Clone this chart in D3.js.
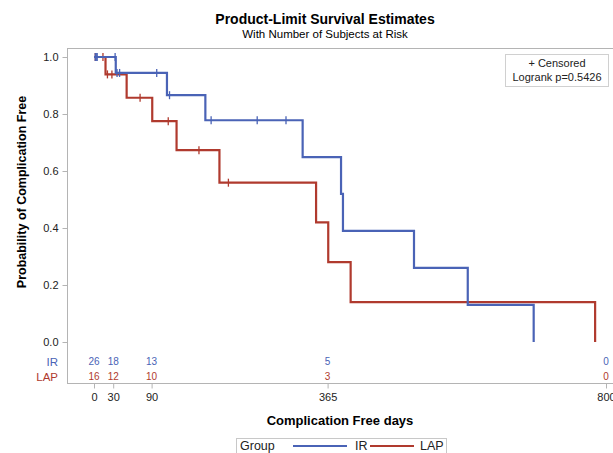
<!DOCTYPE html>
<html>
<head>
<meta charset="utf-8">
<script src="https://cdn.jsdelivr.net/npm/d3@7"></script>
<style>
  body { margin: 0; background: #fff; }
  text { font-family: Arial, "Liberation Sans", sans-serif; }
</style>
</head>
<body>
<div id="chart"></div>
<script>
// event times (days) and survival after each drop
var irTimes = [34, 114, 174, 326, 386, 389, 500, 584, 687];
var irSurv = [0.944, 0.866, 0.778, 0.649, 0.52, 0.39, 0.26, 0.13, 0];
var irCensor = [2, 3.5, 5, 33, 36, 40, 98, 118, 183, 255, 300];

var lapTimes = [18, 51, 91, 129, 196, 347, 366, 401, 783];
var lapSurv = [0.939, 0.857, 0.775, 0.673, 0.559, 0.42, 0.28, 0.14, 0];
var lapCensor = [2, 14, 21, 28, 72, 116, 164, 210];

// numbers at risk
var riskTicks = [0, 30, 90, 365, 800];
var irRisk = [26, 18, 13, 5, 0];
var lapRisk = [16, 12, 10, 3, 0];

var yTicks = [0, 0.2, 0.4, 0.6, 0.8, 1.0];

(function () {
    var width = 613, height = 453;
    var blue = "#4a63b6", red = "#b03a2e", grey = "#b4b4b4";

    var svg = d3.select("#chart").append("svg")
        .attr("width", width).attr("height", height);

    var x = d3.scaleLinear().domain([0, 800]).range([94, 606]);
    var y = d3.scaleLinear().domain([0, 1]).range([342, 57]);

    // titles
    svg.append("text").attr("x", 325).attr("y", 24).attr("text-anchor", "middle")
        .attr("font-size", 14).attr("font-weight", "bold").text("Product-Limit Survival Estimates");
    svg.append("text").attr("x", 325).attr("y", 38).attr("text-anchor", "middle")
        .attr("font-size", 11.5).text("With Number of Subjects at Risk");

    // frame
    svg.append("rect").attr("x", 67.5).attr("y", 48.5).attr("width", 600).attr("height", 335)
        .attr("fill", "none").attr("stroke", grey);

    // y axis
    var yAxis = svg.append("g").attr("transform", "translate(67.5,0)")
        .call(d3.axisLeft(y).tickValues(yTicks).tickFormat(d3.format(".1f")).tickSize(5).tickPadding(4));
    yAxis.select(".domain").remove();
    yAxis.selectAll("line").attr("stroke", grey);
    yAxis.selectAll("text").attr("font-size", 11).attr("fill", "#222")
        .style("font-family", "Arial, 'Liberation Sans', sans-serif");

    // x axis
    var xAxis = svg.append("g").attr("transform", "translate(0,383.5)")
        .call(d3.axisBottom(x).tickValues(riskTicks).tickSize(5).tickPadding(5));
    xAxis.select(".domain").remove();
    xAxis.selectAll("line").attr("stroke", grey);
    xAxis.selectAll("text").attr("font-size", 11).attr("fill", "#222")
        .style("font-family", "Arial, 'Liberation Sans', sans-serif");

    // axis labels
    svg.append("text").attr("transform", "translate(26,192) rotate(-90)")
        .attr("text-anchor", "middle").attr("font-size", 12.5).attr("font-weight", "bold")
        .text("Probability of Complication Free");
    svg.append("text").attr("x", 340).attr("y", 425).attr("text-anchor", "middle")
        .attr("font-size", 13).attr("font-weight", "bold").text("Complication Free days");

    // curves
    var line = d3.line().x(d => x(d[0])).y(d => y(d[1])).curve(d3.curveStepAfter);

    function stepAt(times, surv, t) {
        var s = 1;
        for (var i = 0; i < times.length; i++) if (times[i] <= t) s = surv[i];
        return s;
    }

    var groups = [
        { times: irTimes, surv: irSurv, cens: irCensor, color: blue },
        { times: lapTimes, surv: lapSurv, cens: lapCensor, color: red }
    ];

    groups.slice().reverse().forEach(function (g) {
        var pts = [[0, 1]].concat(g.times.map((t, i) => [t, g.surv[i]]));
        svg.append("path").datum(pts).attr("d", line)
            .attr("fill", "none").attr("stroke", g.color).attr("stroke-width", 2.2);
        svg.append("g").selectAll("line").data(g.cens).join("line")
            .attr("x1", d => x(d)).attr("x2", d => x(d))
            .attr("y1", d => y(stepAt(g.times, g.surv, d)) - 4)
            .attr("y2", d => y(stepAt(g.times, g.surv, d)) + 4)
            .attr("stroke", g.color).attr("stroke-width", 1.3);
    });

    // at-risk rows
    var rows = [
        { name: "IR", vals: irRisk, color: blue, yy: 366 },
        { name: "LAP", vals: lapRisk, color: red, yy: 381 }
    ];
    rows.forEach(function (r) {
        svg.append("text").attr("x", 58).attr("y", r.yy).attr("text-anchor", "end")
            .attr("font-size", 11.5).attr("fill", r.color).text(r.name);
        svg.append("g").selectAll("text").data(r.vals).join("text")
            .attr("x", (d, i) => x(riskTicks[i])).attr("y", r.yy - 1)
            .attr("text-anchor", "middle").attr("font-size", 10).attr("fill", r.color)
            .text(d => d);
    });

    // inset legend
    svg.append("rect").attr("x", 505.5).attr("y", 54.5).attr("width", 103).attr("height", 32)
        .attr("fill", "#fff").attr("stroke", "#d0d0d0");
    svg.append("text").attr("x", 557).attr("y", 67).attr("text-anchor", "middle")
        .attr("font-size", 11).attr("fill", "#222").text("+ Censored");
    svg.append("text").attr("x", 557).attr("y", 81).attr("text-anchor", "middle")
        .attr("font-size", 11).attr("fill", "#222").text("Logrank p=0.5426");

    // group legend
    svg.append("rect").attr("x", 236.5).attr("y", 438.5).attr("width", 210).attr("height", 30)
        .attr("fill", "none").attr("stroke", "#c8c8c8");
    svg.append("text").attr("x", 240).attr("y", 450).attr("font-size", 12.5).attr("fill", "#222").text("Group");
    svg.append("line").attr("x1", 293).attr("x2", 347).attr("y1", 446).attr("y2", 446)
        .attr("stroke", blue).attr("stroke-width", 2);
    svg.append("text").attr("x", 355).attr("y", 450).attr("font-size", 12.5).attr("fill", "#222").text("IR");
    svg.append("line").attr("x1", 370).attr("x2", 414).attr("y1", 446).attr("y2", 446)
        .attr("stroke", red).attr("stroke-width", 2);
    svg.append("text").attr("x", 420).attr("y", 450).attr("font-size", 12.5).attr("fill", "#222").text("LAP");
})();
</script>
</body>
</html>
